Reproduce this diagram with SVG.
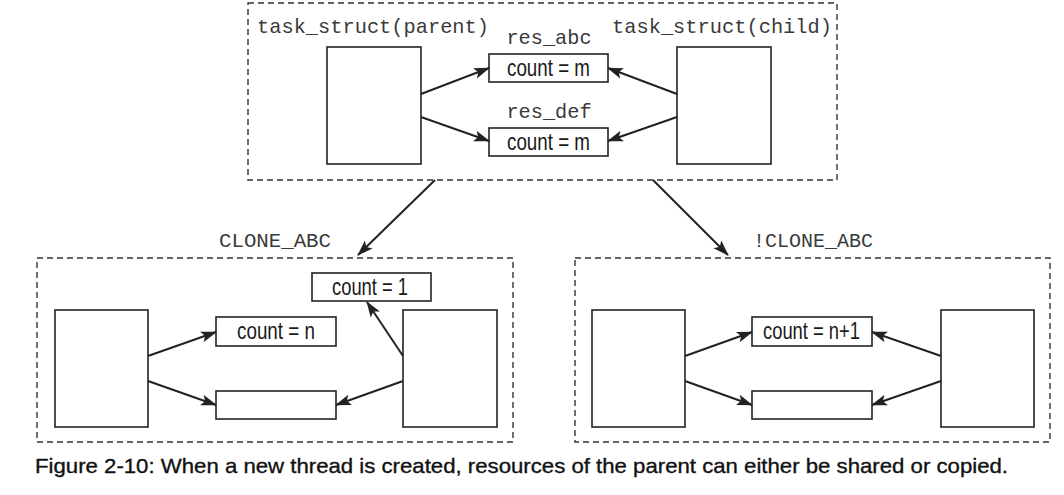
<svg xmlns="http://www.w3.org/2000/svg" width="1064" height="495" viewBox="0 0 1064 495">
<style>
.bg{fill:#ffffff}
.frame{fill:none;stroke:#333;stroke-width:1.4;stroke-dasharray:6 4}
.box{fill:#fff;stroke:#222;stroke-width:1.6}
.mono{font-family:"Liberation Mono","Courier New",monospace;font-size:20.3px;fill:#3a3a3a}
.val{font-family:"Liberation Sans",Arial,sans-serif;font-size:23px;fill:#1a1a1a}
.cap{font-family:"Liberation Sans",Arial,sans-serif;font-size:21px;fill:#111;stroke:#111;stroke-width:0.35}
.con{fill:none;stroke:#222;stroke-width:2;marker-end:url(#ah)}
</style>
<defs>
<marker id="ah" markerWidth="16" markerHeight="12" refX="15" refY="6" orient="auto" markerUnits="userSpaceOnUse">
<path d="M0,0.5 L16,6 L0,11.5 L3.5,6 Z" fill="#222"/>
</marker>
</defs>
<rect class="bg" x="0" y="0" width="1064" height="495"/>

<g id="top-group">
<rect class="frame" x="248" y="3" width="589" height="177"/>
</g>
<g id="parent">
<text class="mono" x="257" y="33" textLength="232" lengthAdjust="spacingAndGlyphs">task_struct(parent)</text>
<rect class="box" x="327" y="47" width="94" height="117"/>
</g>
<g id="child">
<text class="mono" x="612" y="33" textLength="220" lengthAdjust="spacingAndGlyphs">task_struct(child)</text>
<rect class="box" x="677" y="47" width="94" height="117"/>
</g>
<g id="res_abc">
<text class="mono" x="549" y="44" text-anchor="middle">res_abc</text>
<rect class="box" x="489" y="54" width="119" height="28"/>
<text class="val" x="548.5" y="76" text-anchor="middle" textLength="83" lengthAdjust="spacingAndGlyphs">count = m</text>
</g>
<g id="res_def">
<text class="mono" x="549" y="118" text-anchor="middle">res_def</text>
<rect class="box" x="489" y="128" width="119" height="28"/>
<text class="val" x="548.5" y="150" text-anchor="middle" textLength="83" lengthAdjust="spacingAndGlyphs">count = m</text>
</g>

<g id="clone-group">
<text class="mono" x="275" y="247" text-anchor="middle" textLength="112" lengthAdjust="spacingAndGlyphs">CLONE_ABC</text>
<rect class="frame" x="37" y="258" width="476" height="184"/>
</g>
<g id="clone-parent"><rect class="box" x="55" y="310" width="93" height="117"/></g>
<g id="clone-child"><rect class="box" x="403" y="310" width="94" height="117"/></g>
<g id="clone-count-n">
<rect class="box" x="216" y="317" width="120" height="29"/>
<text class="val" x="276" y="339" text-anchor="middle" textLength="78" lengthAdjust="spacingAndGlyphs">count = n</text>
</g>
<g id="clone-count-1">
<rect class="box" x="312" y="273" width="119" height="28"/>
<text class="val" x="370" y="295" text-anchor="middle" textLength="76" lengthAdjust="spacingAndGlyphs">count = 1</text>
</g>
<g id="clone-empty"><rect class="box" x="216" y="391" width="120" height="28"/></g>

<g id="noclone-group">
<text class="mono" x="813" y="247" text-anchor="middle" textLength="120" lengthAdjust="spacingAndGlyphs">!CLONE_ABC</text>
<rect class="frame" x="575" y="258" width="475" height="184"/>
</g>
<g id="noclone-parent"><rect class="box" x="592" y="310" width="93" height="117"/></g>
<g id="noclone-child"><rect class="box" x="941" y="310" width="93" height="117"/></g>
<g id="noclone-count">
<rect class="box" x="752" y="317" width="120" height="29"/>
<text class="val" x="811.5" y="339" text-anchor="middle" textLength="97" lengthAdjust="spacingAndGlyphs">count = n+1</text>
</g>
<g id="noclone-empty"><rect class="box" x="752" y="391" width="120" height="28"/></g>

<g id="connectors">
<line class="con" x1="421" y1="94" x2="489" y2="68"/>
<line class="con" x1="421" y1="117" x2="489" y2="141"/>
<line class="con" x1="677" y1="94" x2="608" y2="68"/>
<line class="con" x1="677" y1="117" x2="608" y2="141"/>
<line class="con" x1="435" y1="180" x2="358" y2="255"/>
<line class="con" x1="653" y1="180" x2="728" y2="255"/>
<line class="con" x1="148" y1="356" x2="216" y2="332"/>
<line class="con" x1="148" y1="381" x2="216" y2="405"/>
<line class="con" x1="403" y1="381" x2="336" y2="405"/>
<line class="con" x1="403" y1="356" x2="367" y2="302"/>
<line class="con" x1="685" y1="356" x2="752" y2="332"/>
<line class="con" x1="685" y1="381" x2="752" y2="405"/>
<line class="con" x1="941" y1="356" x2="872" y2="332"/>
<line class="con" x1="941" y1="381" x2="872" y2="405"/>
</g>

<text class="cap" x="35" y="473" textLength="973" lengthAdjust="spacingAndGlyphs">Figure 2-10: When a new thread is created, resources of the parent can either be shared or copied.</text>
</svg>
